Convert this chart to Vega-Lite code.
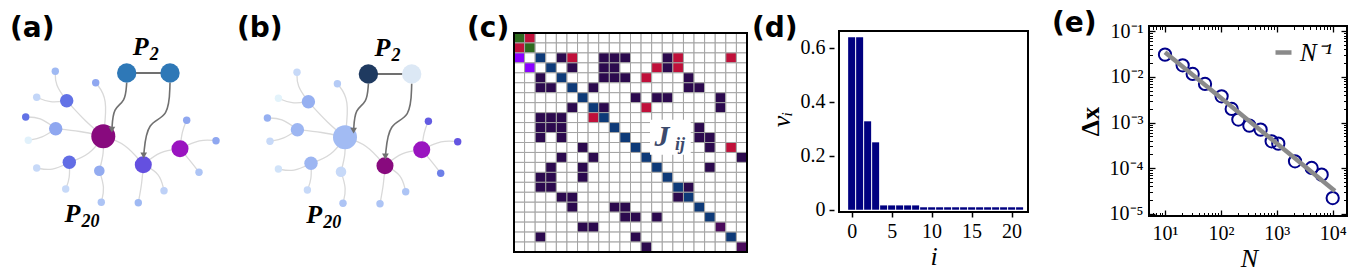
{
"$schema":"https://vega.github.io/schema/vega-lite/v6.json",
"padding":{"left":0,"top":10,"right":0,"bottom":0},
"bounds":"flush",
"spacing":87,
"resolve":{"scale":{"color":"independent","size":"independent"},"legend":{"color":"independent","size":"independent"}},
"datasets":{
"nodes":[
{"id":"hub","x":0,"y":0,"deg":6,"va":1.0,"vb":0.32},
{"id":"hub2","x":2.0,"y":-1.42,"deg":4,"va":0.65,"vb":1.0},
{"id":"hub3","x":3.835,"y":-0.62,"deg":4,"va":0.8,"vb":0.8},
{"id":"m1","x":-1.83,"y":1.78,"deg":3,"va":0.5,"vb":0.36},
{"id":"m2","x":-2.38,"y":0.38,"deg":3,"va":0.38,"vb":0.34},
{"id":"m3","x":-1.7,"y":-1.3,"deg":3,"va":0.52,"vb":0.34},
{"id":"m4","x":-0.2,"y":-1.72,"deg":2,"va":0.37,"vb":0.18},
{"id":"s1","x":-2.4,"y":3.25,"deg":1,"va":0.33,"vb":0.18},
{"id":"s2","x":-0.38,"y":2.68,"deg":1,"va":0.38,"vb":0.25},
{"id":"s3","x":-3.33,"y":1.95,"deg":1,"va":0.2,"vb":0.02},
{"id":"s4","x":-3.88,"y":0.965,"deg":1,"va":0.5,"vb":0.36},
{"id":"s5","x":-3.75,"y":-0.2,"deg":1,"va":0.03,"vb":0.18},
{"id":"s6","x":-3.33,"y":-1.585,"deg":1,"va":0.18,"vb":0.12},
{"id":"s7","x":-1.88,"y":-2.635,"deg":1,"va":0.18,"vb":0.18},
{"id":"s8","x":-0.1,"y":-3.3,"deg":1,"va":0.28,"vb":0.28},
{"id":"s9","x":1.75,"y":-3.32,"deg":1,"va":0.33,"vb":0.28},
{"id":"s10","x":3.035,"y":-2.72,"deg":1,"va":0.22,"vb":0.28},
{"id":"s11","x":4.17,"y":0.8,"deg":1,"va":0.38,"vb":0.6},
{"id":"s12","x":5.635,"y":-0.22,"deg":1,"va":0.38,"vb":0.63},
{"id":"s13","x":4.785,"y":-1.8,"deg":1,"va":0.28,"vb":0.47}
],
"p2":[{"x":1.17,"y":3.165,"pa":0.5,"pb":1},{"x":3.335,"y":3.165,"pa":0.5,"pb":0}],
"edges":[
{"e":1,"k":0,"x":0,"y":0},{"e":1,"k":1,"x":0.235,"y":1.915},{"e":1,"k":2,"x":-0.38,"y":2.68},
{"e":2,"k":0,"x":0,"y":0},{"e":2,"k":1,"x":-0.915,"y":0.765},{"e":2,"k":2,"x":-1.83,"y":1.78},
{"e":3,"k":0,"x":0,"y":0},{"e":3,"k":1,"x":-1.165,"y":0.265},{"e":3,"k":2,"x":-2.38,"y":0.38},
{"e":4,"k":0,"x":0,"y":0},{"e":4,"k":1,"x":-0.665,"y":-0.935},{"e":4,"k":2,"x":-1.7,"y":-1.3},
{"e":5,"k":0,"x":0,"y":0},{"e":5,"k":1,"x":0.035,"y":-0.835},{"e":5,"k":2,"x":-0.2,"y":-1.72},
{"e":6,"k":0,"x":0,"y":0},{"e":6,"k":1,"x":1.085,"y":-0.335},{"e":6,"k":2,"x":2.0,"y":-1.42},
{"e":7,"k":0,"x":-1.83,"y":1.78},{"e":7,"k":1,"x":-2.415,"y":2.565},{"e":7,"k":2,"x":-2.4,"y":3.25},
{"e":8,"k":0,"x":-1.83,"y":1.78},{"e":8,"k":1,"x":-2.665,"y":1.665},{"e":8,"k":2,"x":-3.33,"y":1.95},
{"e":9,"k":0,"x":-2.38,"y":0.38},{"e":9,"k":1,"x":-3.165,"y":0.965},{"e":9,"k":2,"x":-3.88,"y":0.965},
{"e":10,"k":0,"x":-2.38,"y":0.38},{"e":10,"k":1,"x":-3.065,"y":-0.085},{"e":10,"k":2,"x":-3.75,"y":-0.2},
{"e":11,"k":0,"x":-1.7,"y":-1.3},{"e":11,"k":1,"x":-2.565,"y":-1.735},{"e":11,"k":2,"x":-3.33,"y":-1.585},
{"e":12,"k":0,"x":-1.7,"y":-1.3},{"e":12,"k":1,"x":-1.665,"y":-2.085},{"e":12,"k":2,"x":-1.88,"y":-2.635},
{"e":13,"k":0,"x":-0.2,"y":-1.72},{"e":13,"k":1,"x":0.085,"y":-2.585},{"e":13,"k":2,"x":-0.1,"y":-3.3},
{"e":14,"k":0,"x":2.0,"y":-1.42},{"e":14,"k":1,"x":1.935,"y":-2.335},{"e":14,"k":2,"x":1.75,"y":-3.32},
{"e":15,"k":0,"x":2.0,"y":-1.42},{"e":15,"k":1,"x":2.835,"y":-1.835},{"e":15,"k":2,"x":3.035,"y":-2.72},
{"e":16,"k":0,"x":2.0,"y":-1.42},{"e":16,"k":1,"x":2.835,"y":-0.735},{"e":16,"k":2,"x":3.835,"y":-0.62},
{"e":17,"k":0,"x":3.835,"y":-0.62},{"e":17,"k":1,"x":3.935,"y":0.265},{"e":17,"k":2,"x":4.17,"y":0.8},
{"e":18,"k":0,"x":3.835,"y":-0.62},{"e":18,"k":1,"x":4.835,"y":-0.135},{"e":18,"k":2,"x":5.635,"y":-0.22},
{"e":19,"k":0,"x":3.835,"y":-0.62},{"e":19,"k":1,"x":4.435,"y":-1.335},{"e":19,"k":2,"x":4.785,"y":-1.8}
],
"arrows":[
{"e":1,"k":0,"x":1.17,"y":2.68},{"e":1,"k":1,"x":1.1,"y":1.7},{"e":1,"k":2,"x":0.5,"y":1.45},{"e":1,"k":3,"x":0.43,"y":0.33},
{"e":2,"k":0,"x":3.335,"y":2.68},{"e":2,"k":1,"x":3.285,"y":0.915},{"e":2,"k":2,"x":2.185,"y":0.765},{"e":2,"k":3,"x":2.02,"y":-0.96}
],
"heads":[{"x":0.43,"y":0.33},{"x":2.02,"y":-0.96}],
"plabels":[{"x":1.875,"y":4.49,"t":"P","s":"2"},{"x":-1.54,"y":-3.875,"t":"P","s":"20"}],
"J":[
{"i":0,"j":[0,1,2,3,4,5,6,7,8,9,10,11,12,13,14,15,16,17,18,19,20,21],"k":["g","r",".",".",".",".",".",".",".",".",".",".",".",".",".",".",".",".",".",".",".","."]},
{"i":1,"j":[0,1,2,3,4,5,6,7,8,9,10,11,12,13,14,15,16,17,18,19,20,21],"k":["r","g",".",".",".",".",".",".",".",".",".",".",".",".",".",".",".",".",".",".",".","."]},
{"i":2,"j":[0,1,2,3,4,5,6,7,8,9,10,11,12,13,14,15,16,17,18,19,20,21],"k":["v",".","d",".","n","r",".",".","n","n","n",".",".",".","n","r",".",".",".",".","r","."]},
{"i":3,"j":[0,1,2,3,4,5,6,7,8,9,10,11,12,13,14,15,16,17,18,19,20,21],"k":[".","v",".","d",".","n",".",".","n","n",".",".",".","r","n","r",".",".",".",".",".","."]},
{"i":4,"j":[0,1,2,3,4,5,6,7,8,9,10,11,12,13,14,15,16,17,18,19,20,21],"k":[".",".","n",".","d",".",".",".","n","n","n",".","r",".",".",".","n",".",".",".",".","."]},
{"i":5,"j":[0,1,2,3,4,5,6,7,8,9,10,11,12,13,14,15,16,17,18,19,20,21],"k":[".",".","n","n",".","d",".","n",".",".",".",".",".",".",".",".","n","n",".",".",".","."]},
{"i":6,"j":[0,1,2,3,4,5,6,7,8,9,10,11,12,13,14,15,16,17,18,19,20,21],"k":[".",".",".",".",".",".","d",".",".",".",".","n",".","n","n",".",".",".",".","n",".","."]},
{"i":7,"j":[0,1,2,3,4,5,6,7,8,9,10,11,12,13,14,15,16,17,18,19,20,21],"k":[".",".",".",".",".","n",".","d","n",".",".",".","r",".",".",".",".",".",".","n",".","."]},
{"i":8,"j":[0,1,2,3,4,5,6,7,8,9,10,11,12,13,14,15,16,17,18,19,20,21],"k":[".",".","n","n","n",".",".","r","d",".",".",".",".",".",".",".",".",".",".",".",".","."]},
{"i":9,"j":[0,1,2,3,4,5,6,7,8,9,10,11,12,13,14,15,16,17,18,19,20,21],"k":[".",".","n","n","n",".",".",".",".","d",".",".",".",".",".",".",".","n",".",".",".","."]},
{"i":10,"j":[0,1,2,3,4,5,6,7,8,9,10,11,12,13,14,15,16,17,18,19,20,21],"k":[".",".","n",".","n",".",".",".",".",".","d",".",".",".",".",".",".","n","n",".",".","."]},
{"i":11,"j":[0,1,2,3,4,5,6,7,8,9,10,11,12,13,14,15,16,17,18,19,20,21],"k":[".",".",".",".",".",".","n",".",".",".",".","d",".",".",".",".",".",".","n",".","r","."]},
{"i":12,"j":[0,1,2,3,4,5,6,7,8,9,10,11,12,13,14,15,16,17,18,19,20,21],"k":[".",".",".",".","n",".",".","n",".",".",".",".","d",".",".",".",".",".",".",".",".","n"]},
{"i":13,"j":[0,1,2,3,4,5,6,7,8,9,10,11,12,13,14,15,16,17,18,19,20,21],"k":[".",".",".","n",".",".","n",".",".",".",".",".",".","d",".",".",".",".","n",".",".","."]},
{"i":14,"j":[0,1,2,3,4,5,6,7,8,9,10,11,12,13,14,15,16,17,18,19,20,21],"k":[".",".","n","n",".",".","n",".",".",".",".",".",".",".","d",".",".",".",".",".",".","."]},
{"i":15,"j":[0,1,2,3,4,5,6,7,8,9,10,11,12,13,14,15,16,17,18,19,20,21],"k":[".",".","n","n",".",".",".",".",".",".",".",".",".",".",".","d","n",".",".",".",".","."]},
{"i":16,"j":[0,1,2,3,4,5,6,7,8,9,10,11,12,13,14,15,16,17,18,19,20,21],"k":[".",".",".",".","n","n",".",".",".",".",".",".",".",".",".","n","d",".",".",".",".","."]},
{"i":17,"j":[0,1,2,3,4,5,6,7,8,9,10,11,12,13,14,15,16,17,18,19,20,21],"k":[".",".",".",".",".","n",".",".",".","n","n",".",".",".",".",".",".","d",".",".",".","."]},
{"i":18,"j":[0,1,2,3,4,5,6,7,8,9,10,11,12,13,14,15,16,17,18,19,20,21],"k":[".",".",".",".",".",".",".",".",".",".","n","n",".","n",".",".",".",".","d",".",".","."]},
{"i":19,"j":[0,1,2,3,4,5,6,7,8,9,10,11,12,13,14,15,16,17,18,19,20,21],"k":[".",".",".",".",".",".","n","n",".",".",".",".",".",".",".",".",".",".",".","m",".","."]},
{"i":20,"j":[0,1,2,3,4,5,6,7,8,9,10,11,12,13,14,15,16,17,18,19,20,21],"k":[".",".","n",".",".",".",".",".",".",".",".","n",".",".",".",".",".",".",".",".","d","."]},
{"i":21,"j":[0,1,2,3,4,5,6,7,8,9,10,11,12,13,14,15,16,17,18,19,20,21],"k":[".",".",".",".",".",".",".",".",".",".",".",".","n",".",".",".",".",".",".",".",".","m"]}
],
"v":[
{"i":0,"v":0.64},{"i":1,"v":0.64},{"i":2,"v":0.328},{"i":3,"v":0.25},{"i":4,"v":0.016},{"i":5,"v":0.016},{"i":6,"v":0.016},{"i":7,"v":0.016},{"i":8,"v":0.016},{"i":9,"v":0.009},{"i":10,"v":0.009},{"i":11,"v":0.009},{"i":12,"v":0.009},{"i":13,"v":0.009},{"i":14,"v":0.009},{"i":15,"v":0.009},{"i":16,"v":0.009},{"i":17,"v":0.009},{"i":18,"v":0.009},{"i":19,"v":0.009},{"i":20,"v":0.009},{"i":21,"v":0.009}
],
"e":[
{"N":10,"D":0.0308},{"N":20.7,"D":0.01795},{"N":31.3,"D":0.01159},{"N":52,"D":0.007},{"N":103,"D":0.00376},{"N":156,"D":0.00198},{"N":205,"D":0.00116},{"N":323,"D":0.000853},{"N":514,"D":0.000698},{"N":809,"D":0.000387},{"N":1064,"D":0.000344},{"N":2118,"D":0.000141},{"N":4207,"D":0.0001007},{"N":6353,"D":0.0000719},{"N":10000,"D":0.0000221}
]
},
"hconcat":[
{
"width":170,"height":226,
"title":{"text":"(a)","dx":10},
"encoding":{
"x":{"field":"x","type":"quantitative","scale":{"domain":[-5.165,3.335],"nice":false,"zero":false},"axis":null},
"y":{"field":"y","type":"quantitative","scale":{"domain":[-5.785,5.515],"nice":false,"zero":false},"axis":null}
},
"layer":[
{"data":{"name":"edges"},"mark":{"type":"line","interpolate":"basis","stroke":"#d9d9d9","strokeWidth":1.3},"encoding":{"detail":{"field":"e","type":"nominal"},"order":{"field":"k","type":"quantitative"}}},
{"data":{"name":"p2"},"mark":{"type":"line","stroke":"#707070","strokeWidth":2},"encoding":{"order":{"field":"x","type":"quantitative"}}},
{"data":{"name":"nodes"},"mark":{"type":"circle","opacity":1},"encoding":{
"size":{"field":"deg","type":"quantitative","scale":{"domain":[1,2,3,4,6],"range":[55,112,180,290,576]},"legend":null},
"color":{"field":"va","type":"quantitative","scale":{"domain":[0,0.2,0.35,0.5,0.65,0.8,1],"range":["#e6f6fb","#c3d6f8","#9ab4f2","#6272e6","#6450e0","#9a14c0","#880a7e"],"interpolate":"rgb"},"legend":null}}},
{"data":{"name":"p2"},"mark":{"type":"circle","opacity":1,"size":376},"encoding":{
"color":{"field":"pa","type":"quantitative","scale":{"domain":[0,0.5,1],"range":["#dce8f5","#2e78b7","#1f3a60"],"interpolate":"rgb"},"legend":null}}},
{"data":{"name":"arrows"},"mark":{"type":"line","interpolate":"basis","stroke":"#707070","strokeWidth":1.6},"encoding":{"detail":{"field":"e","type":"nominal"},"order":{"field":"k","type":"quantitative"}}},
{"data":{"name":"heads"},"mark":{"type":"point","shape":"triangle-down","filled":true,"color":"#707070","opacity":1,"size":45},"encoding":{}},
{"data":{"name":"plabels"},"mark":{"type":"text","font":"Liberation Serif","fontStyle":"italic","fontWeight":"bold","fontSize":26,"color":"black"},"encoding":{"text":{"field":"t"}}},
{"data":{"name":"plabels"},"mark":{"type":"text","font":"Liberation Serif","fontStyle":"italic","fontWeight":"bold","fontSize":18,"color":"black","align":"left","dx":9,"dy":8},"encoding":{"text":{"field":"s"}}}
],
"resolve":{"scale":{"color":"independent"}}
},
{
"width":170,"height":226,
"title":{"text":"(b)","dx":-20},
"encoding":{
"x":{"field":"x","type":"quantitative","scale":{"domain":[-4.4,4.1],"nice":false,"zero":false},"axis":null},
"y":{"field":"y","type":"quantitative","scale":{"domain":[-5.735,5.565],"nice":false,"zero":false},"axis":null}
},
"layer":[
{"data":{"name":"edges"},"mark":{"type":"line","interpolate":"basis","stroke":"#d9d9d9","strokeWidth":1.3},"encoding":{"detail":{"field":"e","type":"nominal"},"order":{"field":"k","type":"quantitative"}}},
{"data":{"name":"p2"},"mark":{"type":"line","stroke":"#707070","strokeWidth":2},"encoding":{"order":{"field":"x","type":"quantitative"}}},
{"data":{"name":"nodes"},"mark":{"type":"circle","opacity":1},"encoding":{
"size":{"field":"deg","type":"quantitative","scale":{"domain":[1,2,3,4,6],"range":[55,112,180,290,576]},"legend":null},
"color":{"field":"vb","type":"quantitative","scale":{"domain":[0,0.2,0.35,0.5,0.65,0.8,1],"range":["#e6f6fb","#c3d6f8","#9ab4f2","#6272e6","#6450e0","#9a14c0","#880a7e"],"interpolate":"rgb"},"legend":null}}},
{"data":{"name":"p2"},"mark":{"type":"circle","opacity":1,"size":376},"encoding":{
"color":{"field":"pb","type":"quantitative","scale":{"domain":[0,0.5,1],"range":["#dce8f5","#2e78b7","#1f3a60"],"interpolate":"rgb"},"legend":null}}},
{"data":{"name":"arrows"},"mark":{"type":"line","interpolate":"basis","stroke":"#707070","strokeWidth":1.6},"encoding":{"detail":{"field":"e","type":"nominal"},"order":{"field":"k","type":"quantitative"}}},
{"data":{"name":"heads"},"mark":{"type":"point","shape":"triangle-down","filled":true,"color":"#707070","opacity":1,"size":45},"encoding":{}},
{"data":{"name":"plabels"},"mark":{"type":"text","font":"Liberation Serif","fontStyle":"italic","fontWeight":"bold","fontSize":26,"color":"black"},"encoding":{"text":{"field":"t"}}},
{"data":{"name":"plabels"},"mark":{"type":"text","font":"Liberation Serif","fontStyle":"italic","fontWeight":"bold","fontSize":18,"color":"black","align":"left","dx":9,"dy":8},"encoding":{"text":{"field":"s"}}}
],
"resolve":{"scale":{"color":"independent"}}
},
{
"width":233,"height":226,
"title":{"text":"(c)","dx":-47},
"layer":[
{"data":{"name":"J"},"transform":[{"flatten":["j","k"]}],"mark":{"type":"rect","stroke":"#a3a3a3","strokeWidth":1},
"encoding":{
"x":{"field":"j","type":"ordinal","scale":{"type":"band","domain":[0,1,2,3,4,5,6,7,8,9,10,11,12,13,14,15,16,17,18,19,20,21],"paddingInner":0,"paddingOuter":0},"axis":null},
"y":{"field":"i","type":"ordinal","scale":{"type":"band","domain":[0,1,2,3,4,5,6,7,8,9,10,11,12,13,14,15,16,17,18,19,20,21],"paddingInner":0,"paddingOuter":0.3516,"align":1},"axis":null},
"color":{"field":"k","type":"nominal","scale":{"domain":[".","g","r","v","d","n","m"],"range":["#ffffff","#2e6b1f","#c0103a","#8a00ff","#0e3a78","#2c0a4e","#4a0b5c"]},"legend":null}}},
{"data":{"values":[{}]},"mark":{"type":"rect","filled":false,"stroke":"black","strokeWidth":2},
"encoding":{"x":{"datum":0,"type":"quantitative","scale":{"domain":[0,22],"nice":false,"zero":false},"axis":null},"x2":{"datum":22},"y":{"datum":0,"type":"quantitative","scale":{"domain":[-0.7035,22],"reverse":true,"nice":false,"zero":false},"axis":null},"y2":{"datum":22}}},
{"data":{"values":[{}]},"mark":{"type":"rect","fill":"white","strokeWidth":0},
"encoding":{"x":{"datum":12.84,"type":"quantitative","scale":{"domain":[0,22],"nice":false,"zero":false},"axis":null},"x2":{"datum":16.69},"y":{"datum":8.71,"type":"quantitative","scale":{"domain":[-0.7035,22],"reverse":true,"nice":false,"zero":false},"axis":null},"y2":{"datum":12.23}}},
{"data":{"values":[{"t":"J","c":13.98,"r":10.45}]},"mark":{"type":"text","font":"Liberation Serif","fontStyle":"italic","fontWeight":"bold","fontSize":30,"color":"#3c4a6c"},
"encoding":{"x":{"field":"c","type":"quantitative","scale":{"domain":[0,22],"nice":false,"zero":false},"axis":null},"y":{"field":"r","type":"quantitative","scale":{"domain":[-0.7035,22],"reverse":true,"nice":false,"zero":false},"axis":null},"text":{"field":"t"}}},
{"data":{"values":[{"t":"ij","c":15.67,"r":11.3}]},"mark":{"type":"text","font":"Liberation Serif","fontStyle":"italic","fontWeight":"bold","fontSize":18,"color":"#3c4a6c"},
"encoding":{"x":{"field":"c","type":"quantitative","scale":{"domain":[0,22],"nice":false,"zero":false},"axis":null},"y":{"field":"r","type":"quantitative","scale":{"domain":[-0.7035,22],"reverse":true,"nice":false,"zero":false},"axis":null},"text":{"field":"t"}}}
],
"resolve":{"scale":{"x":"independent","y":"independent"}}
},
{
"width":199,"height":186,
"title":{"text":"(d)","dx":-82},
"layer":[
{"data":{"name":"v"},"mark":{"type":"bar","size":7,"color":"#000080"},
"encoding":{
"x":{"field":"i","type":"quantitative","scale":{"domain":[-1.58,22.05],"nice":false,"zero":false},"axis":{"values":[0,5,10,15,20],"title":"i","titleFontStyle":"italic","titleFontWeight":"normal","titleFontSize":26,"labelFontSize":20,"tickSize":5,"tickWidth":1.5,"labelPadding":4,"titlePadding":2}},
"y":{"field":"v","type":"quantitative","scale":{"domain":[-0.0085,0.6816],"nice":false},"axis":{"values":[0,0.2,0.4,0.6],"labelExpr":"datum.value == 0 ? '0' : format(datum.value, '.1f')","title":"vᵢ","titleFontStyle":"italic","titleFontWeight":"normal","titleFontSize":26,"labelFontSize":20,"tickSize":5,"tickWidth":1.5,"labelPadding":4,"titlePadding":6}}}},
{"data":{"values":[{}]},"mark":{"type":"rect","filled":false,"stroke":"black","strokeWidth":2},
"encoding":{"x":{"datum":-1.58,"type":"quantitative"},"x2":{"datum":22.05},"y":{"datum":-0.0085,"type":"quantitative"},"y2":{"datum":0.6631}}}
]
},
{
"width":227,"height":190,
"title":{"text":"(e)","dx":-68},
"layer":[
{"data":{"values":[{}]},"mark":{"type":"rect","filled":false,"stroke":"black","strokeWidth":2},
"encoding":{
"x":{"datum":5.174,"type":"quantitative","scale":{"type":"log","domain":[1.567,18030],"nice":false},"axis":{"orient":"bottom","values":[10,100,1000,10000],"labelExpr":"'10' + ['⁰','¹','²','³','⁴'][round(log(datum.value)/LN10)]","tickSize":-6,"tickWidth":1.3,"labelFontSize":20,"labelPadding":13,"title":"N","titleFontStyle":"italic","titleFontSize":26,"titleFontWeight":"normal","titlePadding":2,"titleX":129}},
"x2":{"datum":18030},
"y":{"datum":0.00000891,"type":"quantitative","scale":{"type":"log","domain":[0.00000891,0.1307],"nice":false},"axis":{"orient":"left","offset":-29,"values":[0.00001,0.0001,0.001,0.01,0.1],"labelExpr":"'10' + ['⁻⁵','⁻⁴','⁻³','⁻²','⁻¹'][round(log(datum.value)/LN10)+5]","tickSize":-6,"tickWidth":1.3,"labelFontSize":20,"labelPadding":12,"title":"Δx","titleFontSize":26,"titleFontWeight":"bold","titlePadding":6}},
"y2":{"datum":0.1307}}},
{"data":{"name":"e"},"mark":{"type":"point","shape":"circle","filled":false,"stroke":"#00008b","strokeWidth":2,"size":150,"opacity":1},
"encoding":{
"x":{"field":"N","type":"quantitative","scale":{"type":"log","domain":[1.567,18030],"nice":false},"axis":{"orient":"top","values":[10,100,1000,10000],"labels":false,"tickSize":-6,"tickWidth":1.3,"title":null}},
"y":{"field":"D","type":"quantitative","scale":{"type":"log","domain":[0.00000891,0.1307],"nice":false},"axis":{"orient":"right","values":[0.00001,0.0001,0.001,0.01,0.1],"labels":false,"tickSize":-6,"tickWidth":1.3,"title":null}}}},
{"data":{"values":[{"N":10,"D":0.0346},{"N":10965,"D":0.0000316}]},"mark":{"type":"line","strokeWidth":4.5},
"encoding":{
"x":{"field":"N","type":"quantitative","scale":{"type":"log","domain":[1.567,18030],"nice":false},"axis":{"orient":"bottom","values":[6,7,8,9,20,30,40,50,60,70,80,90,200,300,400,500,600,700,800,900,2000,3000,4000,5000,6000,7000,8000,9000],"labels":false,"tickSize":-3.5,"tickWidth":1,"title":null}},
"y":{"field":"D","type":"quantitative","scale":{"type":"log","domain":[0.00000891,0.1307],"nice":false},"axis":{"orient":"left","offset":-29,"values":[0.00002,0.00003,0.00004,0.00005,0.00006,0.00007,0.00008,0.00009,0.0002,0.0003,0.0004,0.0005,0.0006,0.0007,0.0008,0.0009,0.002,0.003,0.004,0.005,0.006,0.007,0.008,0.009,0.02,0.03,0.04,0.05,0.06,0.07,0.08,0.09],"labels":false,"tickSize":-3.5,"tickWidth":1,"title":null}},
"color":{"datum":"N⁻¹","type":"nominal","scale":{"domain":["N⁻¹"],"range":["#8a8a8a"]},"legend":{"orient":"top-right","offset":14,"title":null,"symbolType":"stroke","symbolStrokeWidth":4.5,"symbolSize":256,"labelFont":"Liberation Serif","labelFontSize":25,"labelFontStyle":"italic","labelColor":"black","labelOffset":4,"padding":0}}}},
{"data":{"name":"e"},"mark":{"type":"point","opacity":0},
"encoding":{
"x":{"field":"N","type":"quantitative","scale":{"type":"log","domain":[1.567,18030],"nice":false},"axis":{"orient":"top","values":[6,7,8,9,20,30,40,50,60,70,80,90,200,300,400,500,600,700,800,900,2000,3000,4000,5000,6000,7000,8000,9000],"labels":false,"tickSize":-3.5,"tickWidth":1,"title":null}},
"y":{"field":"D","type":"quantitative","scale":{"type":"log","domain":[0.00000891,0.1307],"nice":false},"axis":{"orient":"right","values":[0.00002,0.00003,0.00004,0.00005,0.00006,0.00007,0.00008,0.00009,0.0002,0.0003,0.0004,0.0005,0.0006,0.0007,0.0008,0.0009,0.002,0.003,0.004,0.005,0.006,0.007,0.008,0.009,0.02,0.03,0.04,0.05,0.06,0.07,0.08,0.09],"labels":false,"tickSize":-3.5,"tickWidth":1,"title":null}}}}
],
"resolve":{"axis":{"x":"independent","y":"independent"}}
}
],
"config":{
"view":{"stroke":null},
"title":{"font":"DejaVu Sans","fontSize":28,"fontWeight":"bold","anchor":"start","frame":"group","color":"black","offset":-17},
"axis":{"labelFont":"Liberation Serif","titleFont":"Liberation Serif","labelColor":"black","titleColor":"black","tickColor":"black","labelFlush":false,"labelOverlap":false,"labelBound":false,"grid":false,"domain":false,"labelAngle":0}
}
}
